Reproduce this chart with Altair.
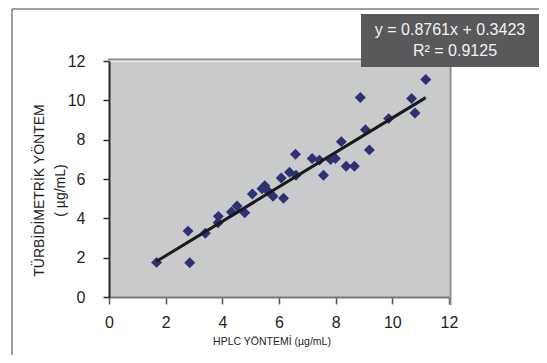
import altair as alt
import pandas as pd

# Data
hplc = [1.68, 2.79, 2.85, 3.40, 3.86, 3.85, 4.32, 4.52, 4.79, 5.06, 5.40, 5.50,
        5.62, 5.79, 6.08, 6.16, 6.37, 6.58, 6.60, 7.17, 7.43, 7.57, 7.82, 7.99,
        8.20, 8.37, 8.66, 8.87, 9.05, 9.19, 9.87, 10.68, 10.80, 11.18]
turb = [1.76, 3.35, 1.74, 3.24, 4.10, 3.78, 4.32, 4.63, 4.28, 5.24, 5.50, 5.66,
        5.38, 5.12, 6.05, 5.02, 6.34, 7.26, 6.19, 7.04, 6.96, 6.19, 6.99, 7.04,
        7.90, 6.65, 6.65, 10.14, 8.50, 7.48, 9.07, 10.09, 9.36, 11.06]
slope = 0.8761
intercept = 0.3423
r2 = 0.9125
axis_ticks = [0, 2, 4, 6, 8, 10, 12]
eq_lines = ["y = 0.8761x + 0.3423", "R\u00b2 = 0.9125"]

FONT = "Liberation Sans"
W, H = 340, 236

pts = pd.DataFrame({"x": hplc, "y": turb})
lx = [min(hplc), max(hplc)]
trend = pd.DataFrame({"x": lx, "y": [slope * v + intercept for v in lx]})
one = pd.DataFrame({"a": [0]})

xs = alt.Scale(domain=[0, 12], nice=False, zero=False)
ys = alt.Scale(domain=[0, 12], nice=False, zero=False)

xaxis = alt.Axis(values=axis_ticks, grid=False, title="HPLC YÖNTEMİ (µg/mL)",
                 domainColor="#7a7a7a", domainWidth=2, tickColor="#555555",
                 tickSize=7, tickWidth=1.5, labelFont=FONT, labelFontSize=16,
                 labelColor="#231f20", labelPadding=10, labelFlush=False,
                 labelOverlap=False, titleFont=FONT,
                 titleFontSize=10.5, titleFontWeight="normal", titleColor="#231f20",
                 titleX=162.5, titleY=47, titleBaseline="alphabetic", titleAlign="center")
yaxis = alt.Axis(values=axis_ticks, grid=False,
                 title=["TÜRBİDİMETRİK YÖNTEM", "( µg/mL)"],
                 domainColor="#2b2b2b", domainWidth=2, tickColor="#2b2b2b",
                 tickSize=6, tickWidth=1.5, labelFont=FONT, labelFontSize=16,
                 labelColor="#231f20", labelPadding=18, labelFlush=False,
                 labelOverlap=False, labelBound=False, titleFont=FONT,
                 titleFontSize=14, titleFontWeight="normal", titleColor="#231f20",
                 titleAngle=270, titleX=-70, titleY=129, titleBaseline="middle",
                 titleAlign="center", titleLineHeight=21)

frame_left = alt.Chart(one).mark_rule(color="#7f7f7f", strokeWidth=1.5).encode(
    x=alt.value(-97), y=alt.value(-52), y2=alt.value(300))
frame_top = alt.Chart(one).mark_rule(color="#7f7f7f", strokeWidth=1.5).encode(
    x=alt.value(-97), x2=alt.value(440), y=alt.value(-52))
border_top = alt.Chart(one).mark_rule(color="#8c8c8c", strokeWidth=2).encode(
    x=alt.value(-1), x2=alt.value(342.5), y=alt.value(-1.5))
border_right = alt.Chart(one).mark_rule(color="#8c8c8c", strokeWidth=2).encode(
    x=alt.value(341.5), y=alt.value(-2), y2=alt.value(244))

points = alt.Chart(pts).mark_point(shape="diamond", filled=True, size=120,
                                   color="#2e3173", opacity=1).encode(
    x=alt.X("x:Q", scale=xs, axis=xaxis),
    y=alt.Y("y:Q", scale=ys, axis=yaxis))
line = alt.Chart(trend).mark_line(color="#1a1a1a", strokeWidth=3).encode(
    x=alt.X("x:Q", scale=xs, axis=xaxis), y=alt.Y("y:Q", scale=ys, axis=yaxis))

box = alt.Chart(one).mark_rect(color="#58595b").encode(
    x=alt.value(252), x2=alt.value(445), y=alt.value(-47), y2=alt.value(6))
t1 = alt.Chart(pd.DataFrame({"t": [eq_lines[0]]})).mark_text(
    font=FONT, fontSize=16, color="#f2f2f2", align="center", baseline="alphabetic").encode(
    text="t:N", x=alt.value(341), y=alt.value(-26))
t2 = alt.Chart(pd.DataFrame({"t": [eq_lines[1]]})).mark_text(
    font=FONT, fontSize=16, color="#f2f2f2", align="center", baseline="alphabetic").encode(
    text="t:N", x=alt.value(346), y=alt.value(-5))

chart = alt.layer(frame_left, frame_top, border_top, border_right, points, line,
                  box, t1, t2).properties(
    width=W, height=H,
    autosize=alt.AutoSizeParams(type="none"),
    padding={"left": 101, "top": 53, "right": 90, "bottom": 58},
    background="white",
).configure_view(fill="#c9cacc", stroke="transparent").configure_axis(labelOverlap=False)

chart.save("out.html", embed_options={"renderer": "svg", "actions": False})
